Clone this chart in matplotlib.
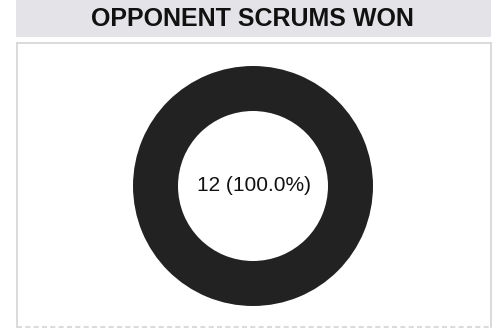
import matplotlib
matplotlib.use("Agg")
import matplotlib.pyplot as plt
from matplotlib.patches import Rectangle
from matplotlib.lines import Line2D

title = "OPPONENT SCRUMS WON"
categories = ["Won"]
values = [12]

W, H = 497, 329
fig = plt.figure(figsize=(W/100, H/100), dpi=100)
fig.patch.set_facecolor("white")

# title band
fig.patches.append(Rectangle((16/W, 1 - 37/H), (491-16)/W, 37/H, transform=fig.transFigure,
                             facecolor="#e4e4e8", edgecolor="none"))
fig.text(252/W, 1 - 19.5/H, title, ha="center", va="center", fontsize=18, fontweight="bold",
         family="Liberation Sans", color="#111111")

# panel border (solid sides/top, dashed bottom)
x0, x1, y0, y1 = 16.5/W, 490.5/W, 1 - 42.5/H, 1 - 326.5/H
for xs, ys, ls in [((x0, x1), (y0, y0), "-"), ((x0, x0), (y0, y1), "-"),
                   ((x1, x1), (y0, y1), "-"), ((x0, x1), (y1, y1), (0, (3, 2)))]:
    fig.lines.append(Line2D(xs, ys, transform=fig.transFigure, color="#d4d4d4",
                            linewidth=1.2, linestyle=ls))

cx, cy, r = 253, 186, 120
ax = fig.add_axes([(cx - r)/W, 1 - (cy + r)/H, 2*r/W, 2*r/H])
ax.pie(values, colors=["#222222"], radius=1, startangle=90,
       wedgeprops=dict(width=45/120, edgecolor="none"))
ax.set_aspect("equal")
ax.set_xlim(-1, 1); ax.set_ylim(-1, 1)
ax.axis("off")
total = sum(values)
ax.text(0.01, 0, f"{values[0]} ({values[0]/total*100:.1f}%)", ha="center", va="center",
        fontsize=15, family="Liberation Sans", color="#111111")

fig.savefig("out.png", dpi=100)
